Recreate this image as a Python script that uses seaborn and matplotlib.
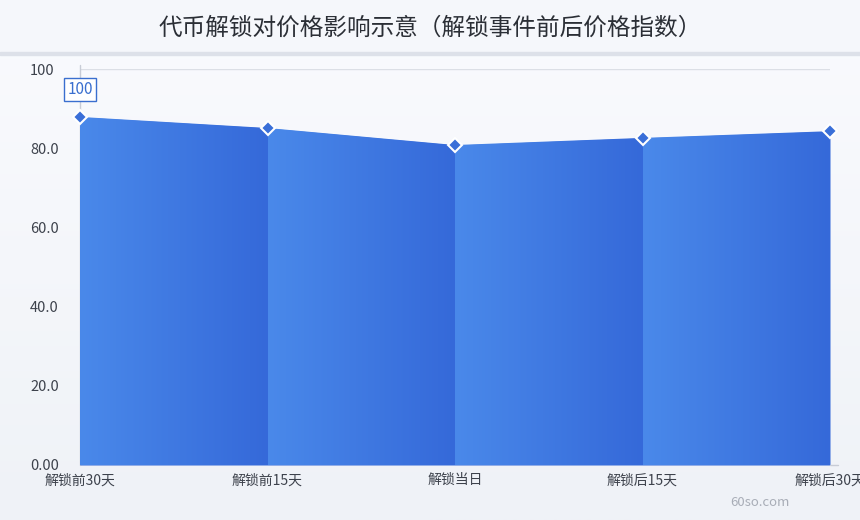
import matplotlib.pyplot as plt
import numpy as np
import pandas as pd
import seaborn as sns
from matplotlib.colors import LinearSegmentedColormap

# data
categories = ["解锁前30天", "解锁前15天", "解锁当日", "解锁后15天", "解锁后30天"]
price_index = [87.9, 85.1, 80.8, 82.6, 84.3]
point_labels = ["100", "", "", "", ""]
y_ticks = [0, 20, 40, 60, 80, 100]
y_tick_labels = ["0.00", "20.0", "40.0", "60.0", "80.0", "100"]

title = "代币解锁对价格影响示意（解锁事件前后价格指数）"

sns.set_theme(style="white")
plt.rcParams['font.family'] = ['Noto Sans CJK SC', 'DejaVu Sans']

df = pd.DataFrame({"pos": np.arange(len(categories)), "category": categories, "value": price_index})

fig = plt.figure(figsize=(8.6, 5.2), dpi=100)

# page background: soft vertical gradient + header band
bg = fig.add_axes([0, 0, 1, 1], zorder=-10)
bg_cmap = LinearSegmentedColormap.from_list("bg", ["#eff2f7", "#fafbfe"])
bg.imshow(np.linspace(0, 1, 256).reshape(-1, 1), cmap=bg_cmap, aspect="auto",
          extent=[0, 1, 0, 1], origin="lower")
bg.axhspan(1 - 52 / 520, 1, color="#f5f7fb")
bg.axhspan(1 - 55 / 520, 1 - 52 / 520, color="#dde1e9")
bg.set_xlim(0, 1)
bg.set_ylim(0, 1)
bg.axis("off")

ax = fig.add_axes([80 / 860, 55 / 520, 750 / 860, 396 / 520])
ax.patch.set_alpha(0)

# gridlines and left axis line (mostly hidden behind the area)
for t in y_ticks:
    ax.axhline(t, color="#dcdfe6", lw=1, zorder=0)
ax.plot([0, 0], [0, 101], color="#c8ccd6", lw=1, zorder=0, clip_on=False)

# solid underlay so the segment seams don't show
ax.fill_between(df["pos"], df["value"], 0, color="#3569d9", lw=0, zorder=1)

# area segments, each with a left-to-right gradient
seg_cmap = LinearSegmentedColormap.from_list("seg", ["#4a89ea", "#3569d9"])
grad = np.linspace(0, 1, 256).reshape(1, -1)
for i in range(len(categories) - 1):
    xs = df["pos"].iloc[i:i + 2].to_numpy()
    ys = df["value"].iloc[i:i + 2].to_numpy()
    poly = ax.fill_between(xs, ys, 0, color="none", lw=0)
    im = ax.imshow(grad, cmap=seg_cmap, aspect="auto", extent=[xs[0], xs[1], 0, 100],
                   origin="lower", zorder=2)
    im.set_clip_path(poly.get_paths()[0], transform=ax.transData)

sns.lineplot(data=df, x="pos", y="value", ax=ax, color="#3a6fd8", lw=0,
             marker="D", markersize=7, markeredgecolor="white", markeredgewidth=1.5,
             zorder=4, clip_on=False)

for x, y, lab in zip(df["pos"], df["value"], point_labels):
    if lab:
        ax.annotate(lab, (x, y), xytext=(0, 20), textcoords="offset points",
                    ha="center", va="center", fontsize=11, color="#3a6fcf",
                    bbox=dict(boxstyle="square,pad=0.2", fc="white", ec="#3a6fcf", lw=1),
                    zorder=5)

ax.set_xlim(0, len(categories) - 1)
ax.set_ylim(0, 100)
ax.set_xticks(df["pos"])
ax.set_xticklabels(categories, fontsize=10, color="#3d424c")
ax.set_yticks(y_ticks)
ax.set_yticklabels(y_tick_labels, fontsize=10.5, color="#3d424c", ha="left")
ax.tick_params(axis="x", length=0, pad=6)
ax.tick_params(axis="y", length=0, pad=36)
ax.set_xlabel("")
ax.set_ylabel("")
for s in ax.spines.values():
    s.set_visible(False)
ax.plot([len(categories) - 1, len(categories) - 0.96], [0, 0], color="#c8ccd6", lw=1,
        clip_on=False)

fig.text(0.5, 1 - 28 / 520, title, ha="center", va="center", fontsize=17, color="#2b2f36")
fig.text(760 / 860, 1 - 503 / 520, "60so.com", ha="center", va="center", fontsize=9.5,
         color="#a8adb7")

fig.savefig("out.png", dpi=100)
